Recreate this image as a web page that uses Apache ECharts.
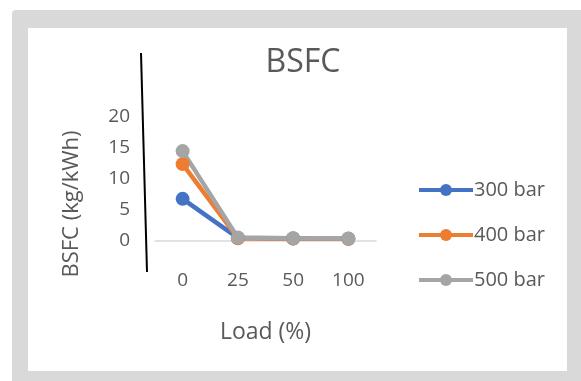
<!DOCTYPE html>
<html><head><meta charset="utf-8">
<script src="https://cdn.jsdelivr.net/npm/echarts@6/dist/echarts.min.js"></script>
<style>html,body{margin:0;padding:0;background:#fff}#c{width:581px;height:381px}</style>
</head><body><div id="c"></div>
<script>
const categories = ['0', '25', '50', '100'];
const s300 = [6.8, 0.5, 0.4, 0.35];
const s400 = [12.4, 0.45, 0.4, 0.35];
const s500 = [14.5, 0.55, 0.45, 0.4];
const yTicks = [0, 5, 10, 15, 20];
const seriesNames = ['300 bar', '400 bar', '500 bar'];
const colors = ['#4472c4', '#ed7d31', '#a5a5a5'];
const FONT = 'Open Sans';

const chart = echarts.init(document.getElementById('c'), null, {renderer: 'canvas'});
const mk = (name, data, color) => ({
  name, type: 'line', data, color,
  symbol: 'circle', symbolSize: 14,
  lineStyle: {width: 4.5, color},
  itemStyle: {color},
  animation: false
});
chart.setOption({
  animation: false,
  textStyle: {fontFamily: FONT},
  title: {
    text: 'BSFC', left: 298, top: 42, textAlign: 'center',
    textStyle: {fontFamily: FONT, fontSize: 32, fontWeight: 'normal', color: '#595959'}
  },
  graphic: [
    {type: 'rect', z: -10, shape: {x: 12, y: 10, width: 580, height: 380, r: 4}, style: {fill: '#d9d9d9'}},
    {type: 'rect', z: -9, shape: {x: 28, y: 28, width: 539, height: 343}, style: {fill: '#ffffff'}},
    {type: 'line', z: 10, shape: {x1: 141, y1: 53, x2: 147, y2: 272}, style: {stroke: '#000', lineWidth: 2}},
    {type: 'text', x: 72, y: 204, rotation: Math.PI / 2,
      style: {text: 'BSFC (kg/kWh)', font: '22px "Open Sans"', fill: '#595959', align: 'center', verticalAlign: 'middle'}}
  ],
  legend: {
    orient: 'vertical', left: 417, top: 180, itemGap: 25, padding: 0,
    itemWidth: 54, itemHeight: 15,
    data: seriesNames,
    lineStyle: {width: 4},
    textStyle: {fontFamily: FONT, fontSize: 20, color: '#595959', padding: [0, 0, 0, -4]}
  },
  grid: {left: 155, right: 205, top: 117, bottom: 140},
  xAxis: {
    type: 'category', data: categories, boundaryGap: true,
    name: 'Load (%)', nameLocation: 'middle', nameGap: 80,
    nameTextStyle: {fontFamily: FONT, fontSize: 23, color: '#595959'},
    axisLine: {lineStyle: {color: '#d9d9d9', width: 1.5}},
    axisTick: {show: false},
    axisLabel: {margin: 30, fontFamily: FONT, fontSize: 19, color: '#595959'}
  },
  yAxis: {
    type: 'value', min: yTicks[0], max: yTicks[yTicks.length - 1], interval: 5,
    axisLine: {show: false}, axisTick: {show: false},
    splitLine: {show: false},
    axisLabel: {margin: 25, fontFamily: FONT, fontSize: 19, color: '#595959'}
  },
  series: [mk(seriesNames[0], s300, colors[0]), mk(seriesNames[1], s400, colors[1]), mk(seriesNames[2], s500, colors[2])]
});
</script></body></html>
